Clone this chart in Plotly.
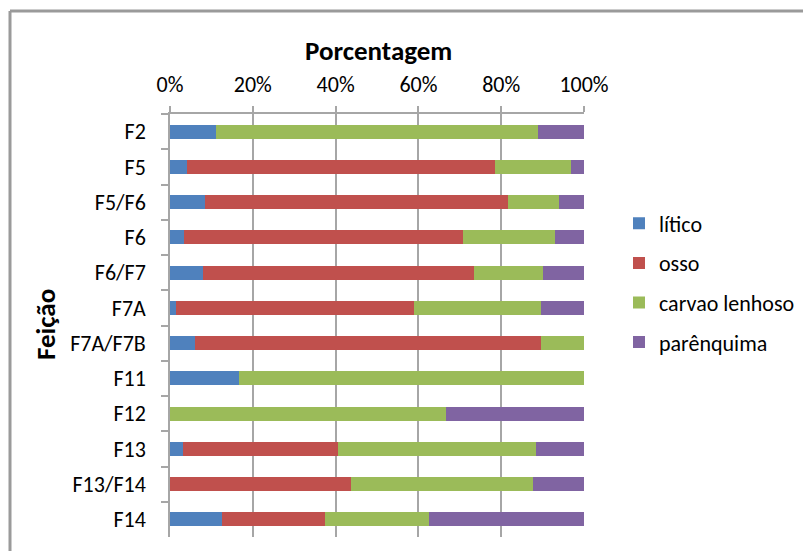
import plotly.graph_objects as go

# Feições (features), top to bottom
categories = ["F2", "F5", "F5/F6", "F6", "F6/F7", "F7A", "F7A/F7B",
              "F11", "F12", "F13", "F13/F14", "F14"]

# Share of each material class per feature (%)
litico = [11.0, 4.2, 8.5, 3.5, 7.9, 1.4, 6.1, 16.7, 0.0, 3.1, 0.0, 12.5]
osso = [0.0, 74.2, 73.1, 67.3, 65.6, 57.5, 83.6, 0.0, 0.0, 37.5, 43.7, 25.0]
carvao_lenhoso = [78.0, 18.4, 12.4, 22.2, 16.5, 30.8, 10.3, 83.3, 66.7, 47.7, 44.0, 25.0]
parenquima = [11.0, 3.2, 6.0, 7.0, 10.0, 10.3, 0.0, 0.0, 33.3, 11.7, 12.3, 37.5]

series_names = ["lítico", "osso", "carvao lenhoso", "parênquima"]
series_values = [litico, osso, carvao_lenhoso, parenquima]
series_colors = ["#4F81BD", "#C0504D", "#9BBB59", "#8064A2"]

x_ticks = [0, 20, 40, 60, 80, 100]

FONT = "Carlito, Lato, sans-serif"
FS = 22
W, H = 803, 551
L, R, T, B = 170, 584, 114, 537  # plot area in pixels

fig = go.Figure()
for i, (name, vals, col) in enumerate(zip(series_names, series_values, series_colors)):
    fig.add_trace(go.Bar(
        y=categories, x=vals, name=name, orientation="h",
        marker=dict(color=col, line=dict(width=0)),
        legendgroup=f"g{i}",
    ))

fig.update_layout(
    width=W, height=H,
    margin=dict(l=L, r=W - R, t=T, b=H - B, pad=0, autoexpand=False),
    barmode="stack", barnorm="percent", bargap=0.6,
    plot_bgcolor="white", paper_bgcolor="white",
    font=dict(family=FONT, size=FS, color="#000000"),
    showlegend=True,
    legend=dict(
        xref="container", yref="container",
        x=619 / W, xanchor="left",
        y=1 - 283 / H, yanchor="middle",
        traceorder="grouped", tracegroupgap=8,
        font=dict(family=FONT, size=FS, color="#000000"),
        itemwidth=30, bgcolor="rgba(0,0,0,0)",
    ),
    xaxis=dict(
        side="top", range=[0, 100], tickvals=x_ticks,
        ticktext=[f"{v}%" for v in x_ticks],
        showgrid=True, gridcolor="#A6A6A6", gridwidth=1.5,
        showline=True, linecolor="#A6A6A6", linewidth=1.5,
        ticks="outside", ticklen=6, tickcolor="#A6A6A6", tickwidth=1.5,
        zeroline=False, ticklabelstandoff=5,
        tickfont=dict(family=FONT, size=FS),
        fixedrange=True, automargin=False,
    ),
    yaxis=dict(
        categoryorder="array", categoryarray=categories, autorange="reversed",
        tickson="boundaries", ticks="outside", ticklen=7,
        tickcolor="#A6A6A6", tickwidth=1.5,
        showline=True, linecolor="#A6A6A6", linewidth=1.5,
        showgrid=False, zeroline=False, ticklabelstandoff=18,
        tickfont=dict(family=FONT, size=FS),
        fixedrange=True, automargin=False,
    ),
    annotations=[
        dict(text="<b>Porcentagem</b>", xref="paper", yref="paper",
             x=(378 - L) / (R - L), y=(B - 50) / (B - T),
             xanchor="center", yanchor="middle", showarrow=False,
             font=dict(family=FONT, size=27, color="#000000")),
        dict(text="<b>Feição</b>", xref="paper", yref="paper",
             x=(45 - L) / (R - L), y=(B - 325) / (B - T),
             xanchor="center", yanchor="middle", showarrow=False, textangle=-90,
             font=dict(family=FONT, size=27, color="#000000")),
    ],
    shapes=[
        # chart-area frame (top and left edges)
        dict(type="line", xref="paper", yref="paper",
             x0=(10 - L) / (R - L), x1=(W + 5 - L) / (R - L),
             y0=(B - 11) / (B - T), y1=(B - 11) / (B - T),
             line=dict(color="#9A9A9A", width=3)),
        dict(type="line", xref="paper", yref="paper",
             x0=(10 - L) / (R - L), x1=(10 - L) / (R - L),
             y0=(B - 11) / (B - T), y1=(B - H - 5) / (B - T),
             line=dict(color="#9A9A9A", width=3)),
    ],
)

fig.write_html("out.html")
